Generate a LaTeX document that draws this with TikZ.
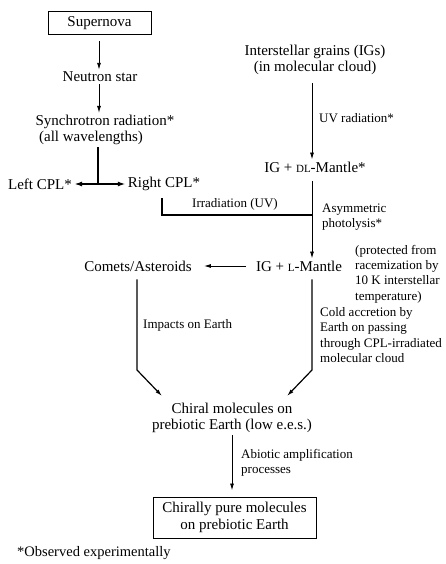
\documentclass[tikz,border=0pt]{standalone}
\usepackage{fontspec}
\setmainfont{Liberation Serif}
\usetikzlibrary{arrows.meta, positioning}
\newcommand{\smcp}[1]{{\fontsize{11}{13}\selectfont #1}}

\begin{document}
\begin{tikzpicture}[
    x=1pt, y=-1pt,
    every node/.style={font=\fontsize{15}{16.5}\selectfont, inner sep=2pt},
    stage/.style={align=center},
    stagebox/.style={draw, line width=1pt, align=center},
    note/.style={font=\fontsize{13}{15.3}\selectfont, align=left, anchor=west},
    flow/.style={-{Latex[length=7pt, width=4pt]}, line width=0.9pt},
    split/.style={-{Latex[length=8pt, width=5pt]}, line width=1.7pt},
    plain/.style={line width=1.1pt}
  ]
    \useasboundingbox (0,0) rectangle (445,564);

    \node[stagebox, minimum width=103pt, minimum height=23pt] (super) at (99.5,23.5) {Supernova};
    \node[stage] (neutron) at (100,77) {Neutron star};
    \node[stage] (synch) at (105,122) {Synchrotron radiation*};
    \node[stage] (waves) at (91,138) {(all wavelengths)};
    \node[stage] (lcpl) at (40,184) {Left CPL*};
    \node[stage] (rcpl) at (164,184) {Right CPL*};
    \node[stage] (grains) at (315,60) {Interstellar grains (IGs)\\(in molecular cloud)};
    \node[stage] (dlm) at (315,167) {IG + \smcp{DL}-Mantle*};
    \node[stage] (lm) at (299,266) {IG + \smcp{L}-Mantle};
    \node[stage] (comets) at (138,266) {Comets/Asteroids};
    \node[stage] (chiral) at (232,418) {Chiral molecules on\\prebiotic Earth (low e.e.s.)};
    \node[stagebox, minimum width=163pt, minimum height=41pt] (pure) at (234.5,517.5) {Chirally pure molecules\\on prebiotic Earth};

    \node[note] (uvlab) at (317,118) {UV radiation*};
    \node[note, anchor=center] (irrlab) at (235,204) {Irradiation (UV)};
    \node[note] (photo) at (320,217) {Asymmetric\\photolysis*};
    \node[note] (protect) at (353,274) {(protected from\\racemization by\\10 K interstellar\\temperature)};
    \node[note] (impact) at (141,325) {Impacts on Earth};
    \node[note] (cold) at (318,335) {Cold accretion by\\Earth on passing\\through CPL-irradiated\\molecular cloud};
    \node[note] (abiotic) at (239,463) {Abiotic amplification\\processes};
    \node[note, font=\fontsize{14.5}{16}\selectfont] (observed) at (15,553) {*Observed experimentally};

    \coordinate (spine) at (99,0);
    \coordinate (fork) at (98,184);
    \coordinate (irr) at (312,215);
    \coordinate (cbend) at (137,370);
    \coordinate (ltip) at (162,396);
    \coordinate (abend) at (312,370);
    \coordinate (rtip) at (287,396);

    \draw[flow, shorten <=6pt] (super.south -| spine) -- (neutron.north -| spine);
    \draw[flow] (neutron.south -| spine) -- (synch.north -| spine);
    \draw[line width=1.7pt] (waves.south -| fork) -- (fork);
    \draw[split] (fork) -- (lcpl);
    \draw[split] (fork) -- (rcpl);
    \draw[plain, shorten <=5pt] ([xshift=-2pt]rcpl.south) |- (irr);
    \draw[flow, shorten <=6pt] (grains.south -| irr) -- (dlm.north -| irr);
    \draw[flow, shorten <=7pt] (dlm.south -| irr) -- (lm.north -| irr);
    \draw[flow, shorten <=8pt, shorten >=10pt] (lm) -- (comets);
    \draw[flow, line width=1.2pt, shorten <=6pt] (comets.south -| cbend) -- (cbend) -- (ltip);
    \draw[flow, line width=1.2pt, shorten <=6pt] (lm.south -| abend) -- (abend) -- (rtip);
    \draw[flow, shorten >=6pt] (chiral.south) -- (chiral.south |- pure.north);
  \end{tikzpicture}
\end{document}
